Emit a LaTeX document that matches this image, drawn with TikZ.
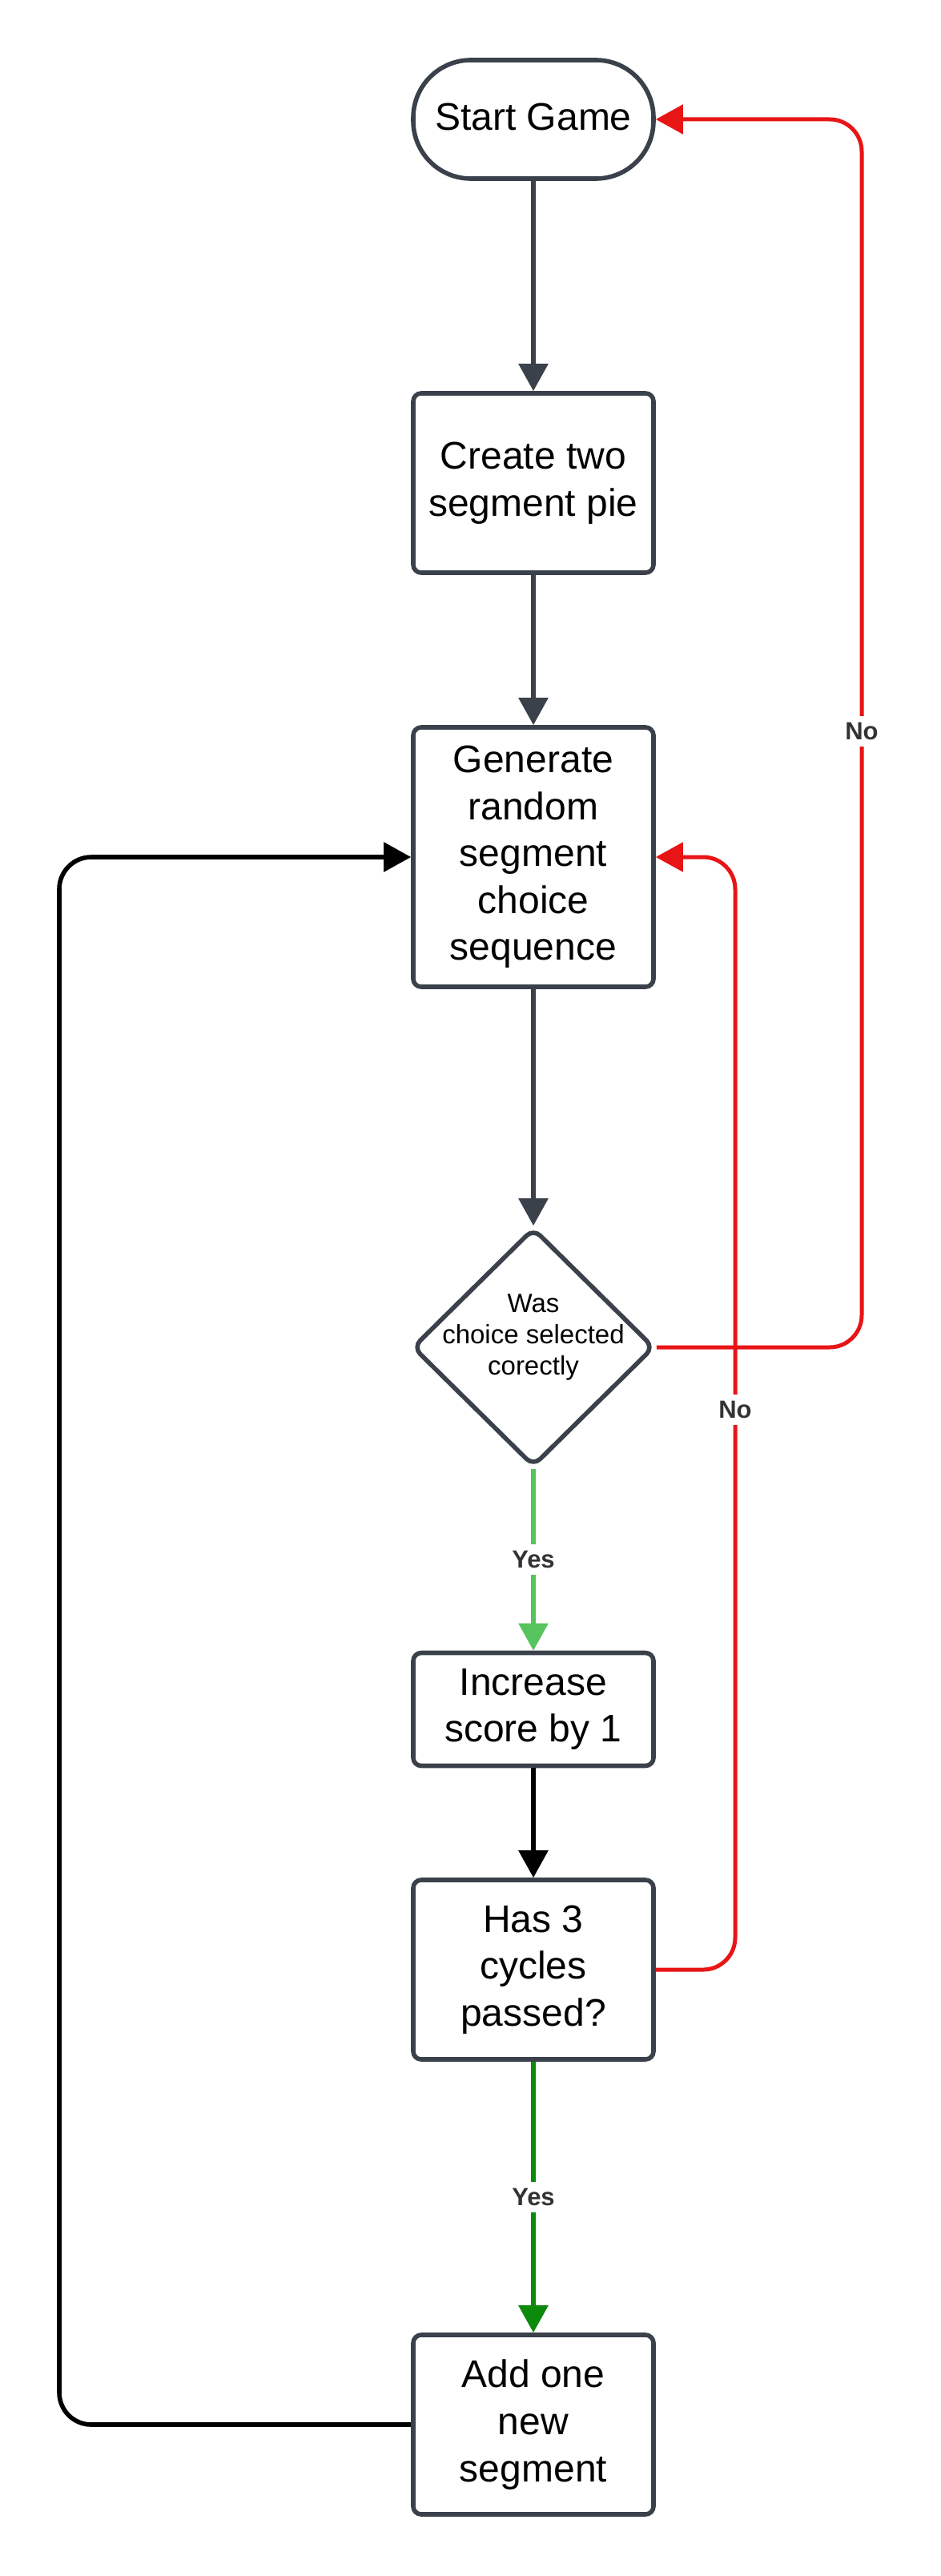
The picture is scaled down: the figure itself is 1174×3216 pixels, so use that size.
\documentclass[tikz,border=0pt]{standalone}
\usepackage{fontspec}
\setmainfont{Liberation Sans}
\usetikzlibrary{arrows.meta,shapes.geometric}
\definecolor{boxgray}{HTML}{3B414B}
\definecolor{nored}{HTML}{E81416}
\definecolor{yesgreen}{HTML}{57C45D}
\definecolor{darkgreen}{HTML}{0B8A0B}
\definecolor{labelgray}{HTML}{333333}
\begin{document}
\begin{tikzpicture}[x=0.5pt,y=-0.5pt,
  procbox/.style={draw=boxgray, line width=2.8pt, rounded corners=5pt, fill=white,
    minimum width=150pt, align=center, inner sep=0pt,
    font=\fontsize{24}{29.3}\selectfont},
  startbox/.style={procbox, rounded corners=36pt},
  decshape/.style={diamond, draw=boxgray, line width=2.8pt, rounded corners=6pt, fill=white,
    minimum width=151pt, minimum height=149pt, inner sep=0pt},
  dectxt/.style={align=center, inner sep=0pt, font=\fontsize{16.5}{19.5}\selectfont},
  flow/.style={line width=2.8pt, -{Triangle[length=17pt,width=18pt]}},
  grayflow/.style={flow, draw=boxgray, color=boxgray},
  redflow/.style={flow, draw=nored, color=nored, line width=2.5pt, rounded corners=20pt},
  blackflow/.style={flow, draw=black, color=black, rounded corners=20pt},
  lbl/.style={fill=white, text=labelgray, inner sep=4pt, font=\bfseries\fontsize{15.5}{18}\selectfont}
]
\useasboundingbox (0,0) rectangle (1174,3216);

\node[startbox, minimum height=74pt] (start) at (666,149) {\raisebox{3pt}{Start Game}};
\node[procbox, minimum height=112pt] (create) at (666,603) {Create two\\segment pie};
\node[procbox, minimum height=162pt] (gen) at (666,1070) {Generate\\random\\segment\\choice\\sequence};
\node[decshape] (dec) at (666,1682) {};
\node[dectxt] (dectext) at (666,1670) {Was\\choice selected\\corectly};
\node[procbox, minimum height=70.5pt] (inc) at (666,2134) {Increase\\score by 1};
\node[procbox, minimum height=112pt] (has) at (666,2459) {Has 3\\cycles\\passed?};
\node[procbox, minimum height=112pt] (add) at (666,3027) {Add one\\new\\segment};

\coordinate (n1a) at (1076,1682);
\coordinate (n1b) at (1076,149);
\coordinate (n2a) at (918,2459);
\coordinate (n2b) at (918,1070);
\coordinate (b1) at (74,3027);
\coordinate (b2) at (74,1070);

\draw[grayflow] (start.south) -- (create.north);
\draw[grayflow] (create.south) -- (gen.north);
\draw[grayflow] (gen.south) -- (dec.north);
\draw[flow, draw=yesgreen, color=yesgreen] (dec.south) -- node[lbl] {Yes} (inc.north);
\draw[flow, draw=black, color=black] (inc.south) -- (has.north);
\draw[flow, draw=darkgreen, color=darkgreen] (has.south) -- node[lbl] {Yes} (add.north);

\draw[redflow] (dec.east) -- (n1a) -- (n1b) -- (start.east);
\node[lbl] (no1) at (1076,913) {No};
\draw[redflow] (has.east) -- (n2a) -- (n2b) -- (gen.east);
\node[lbl] (no2) at (918,1760) {No};
\draw[blackflow] (add.west) -- (b1) -- (b2) -- (gen.west);
\end{tikzpicture}
\end{document}
